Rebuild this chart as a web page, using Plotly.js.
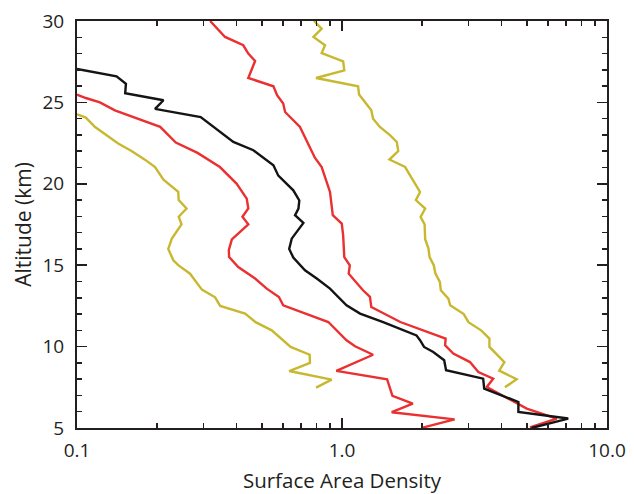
<!DOCTYPE html>
<html><head><meta charset="utf-8">
<script src="https://cdn.plot.ly/plotly-3.0.1.min.js"></script>
<style>html,body{margin:0;padding:0;background:#fff}#chart{width:634px;height:494px}</style>
</head><body><div id="chart"></div>
<script>
// Median (black)
const medianSAD = [0.1,0.141,0.153,0.152,0.212,0.197,0.293,0.389,0.463,0.551,0.575,0.655,0.69,0.685,0.665,0.715,0.646,0.632,0.655,0.725,0.803,0.901,1.04,1.17,1.43,1.91,1.97,2.04,2.21,2.43,2.47,3.41,3.44,4.63,4.63,7.14,5.19];
const medianAlt = [27.05,26.6,26.15,25.56,25.13,24.6,24.1,22.57,22.06,21.14,20.5,19.6,18.98,18.48,18.07,17.6,16.63,16.0,15.47,14.69,14.18,13.56,12.54,12.03,11.51,10.69,10.39,9.98,9.67,9.16,8.55,8.03,7.42,6.6,5.98,5.58,5.0];
// Lower red
const redLowSAD = [0.1,0.108,0.122,0.139,0.206,0.236,0.285,0.346,0.40,0.437,0.443,0.421,0.443,0.384,0.374,0.375,0.406,0.443,0.47,0.52,0.578,0.60,0.826,0.888,1.04,1.12,1.31,0.952,1.48,1.55,1.85,1.54,2.66,2.0];
const redLowAlt = [25.48,25.27,25.0,24.51,23.5,22.53,21.9,21.03,20.01,19.09,18.48,17.98,17.51,16.58,15.92,15.5,14.89,14.48,14.18,13.56,13.05,12.54,11.72,11.51,10.39,10.02,9.5,8.51,7.99,6.98,6.5,5.97,5.53,5.01];
// Upper red
const redHighSAD = [0.318,0.362,0.424,0.443,0.47,0.443,0.551,0.569,0.60,0.61,0.694,0.79,0.838,0.901,0.923,0.998,1.01,1.02,1.07,1.06,1.20,1.275,1.29,1.66,2.46,2.45,2.63,3.04,3.27,3.72,3.52,4.98,6.46,5.12];
const redHighAlt = [30,29.02,28.51,28.0,27.54,26.5,25.99,25.44,24.93,24.41,23.49,21.6,21.03,19.5,18.07,17.55,16.84,15.5,14.99,14.48,13.46,13.05,12.43,11.51,10.49,10.08,9.57,9.05,8.44,8.03,7.52,6.19,5.58,5.03];
// Lower yellow
const yelLowSAD = [0.1,0.108,0.117,0.143,0.16,0.181,0.197,0.212,0.241,0.242,0.259,0.242,0.248,0.228,0.221,0.231,0.241,0.267,0.296,0.332,0.347,0.431,0.472,0.543,0.64,0.755,0.757,0.632,0.914,0.798];
const yelLowAlt = [24.27,24.07,23.49,22.47,22.03,21.47,21.03,20.25,19.5,19.0,18.48,17.98,17.51,16.63,16.0,15.3,15.0,14.48,13.5,13.03,12.5,12.03,11.5,11.0,9.98,9.5,9.0,8.5,7.97,7.48];
// Upper yellow
const yelHighSAD = [0.784,0.838,0.78,0.863,0.838,1.01,1.02,0.798,1.15,1.16,1.29,1.31,1.39,1.52,1.61,1.63,1.51,1.73,1.97,1.90,2.06,1.98,2.05,2.06,2.12,2.14,2.22,2.25,2.34,2.36,2.52,2.56,2.88,3.0,3.35,3.6,3.6,4.1,3.92,4.56,4.12];
const yelHighAlt = [30,29.53,29.02,28.51,28.03,27.52,26.97,26.5,25.99,25.48,24.51,24.0,23.49,22.98,22.57,22.01,21.49,21.03,19.5,19.0,18.48,17.96,17.51,16.6,16.02,15.5,15.0,14.5,13.97,13.46,12.95,12.54,12.0,11.5,11.0,10.49,9.98,9.05,8.52,8.0,7.5];

const xTickVals = [0.1, 1, 10];
const xTickText = ['0.1', '1.0', '10.0'];
const xMinorVals = [0.2,0.3,0.4,0.5,0.6,0.7,0.8,0.9,2,3,4,5,6,7,8,9];
const yTickVals = [5, 10, 15, 20, 25, 30];
const xTitle = 'Surface Area Density';
const yTitle = 'Altitude (km)';

const RED = '#ea3030', YEL = '#c8b830', BLK = '#141414';
const FONT = 'Open Sans, sans-serif';
const AX = '#231f20';

function tr(x, y, c) {
  return {x: x, y: y, type: 'scatter', mode: 'lines', line: {color: c, width: 2.4}, hoverinfo: 'skip'};
}
const data = [
  tr(yelLowSAD, yelLowAlt, YEL),
  tr(yelHighSAD, yelHighAlt, YEL),
  tr(redLowSAD, redLowAlt, RED),
  tr(redHighSAD, redHighAlt, RED),
  tr(medianSAD, medianAlt, BLK)
];

const layout = {
  width: 634, height: 494,
  margin: {l: 77, r: 27, t: 21, b: 66},
  paper_bgcolor: '#fff', plot_bgcolor: '#fff',
  showlegend: false,
  font: {family: FONT, size: 19, color: AX},
  xaxis: {
    type: 'log', range: [-1, 1],
    tickvals: xTickVals, ticktext: xTickText,
    ticks: 'inside', ticklen: 10, tickwidth: 1.5, tickcolor: AX,
    showline: true, linewidth: 2, linecolor: AX, mirror: 'ticks',
    showgrid: false, zeroline: false,
    ticklabelstandoff: 4,
    minor: {tickvals: xMinorVals, ticks: 'inside', ticklen: 5, tickwidth: 1.5, tickcolor: AX, showgrid: false},
    tickfont: {family: FONT, size: 19, color: AX},
    title: {text: xTitle, font: {family: FONT, size: 20.5, color: AX}, standoff: 17}
  },
  yaxis: {
    range: [5, 30],
    tickvals: yTickVals,
    ticks: 'inside', ticklen: 10, tickwidth: 1.5, tickcolor: AX,
    showline: true, linewidth: 2, linecolor: AX, mirror: 'ticks',
    showgrid: false, zeroline: false,
    ticklabelstandoff: 7,
    minor: {dtick: 1, ticks: 'inside', ticklen: 5, tickwidth: 1.5, tickcolor: AX, showgrid: false},
    tickfont: {family: FONT, size: 19, color: AX},
    title: {text: yTitle, font: {family: FONT, size: 21, color: AX}, standoff: 5}
  }
};

Plotly.newPlot('chart', data, layout, {staticPlot: true, displayModeBar: false});
</script>
</body></html>
